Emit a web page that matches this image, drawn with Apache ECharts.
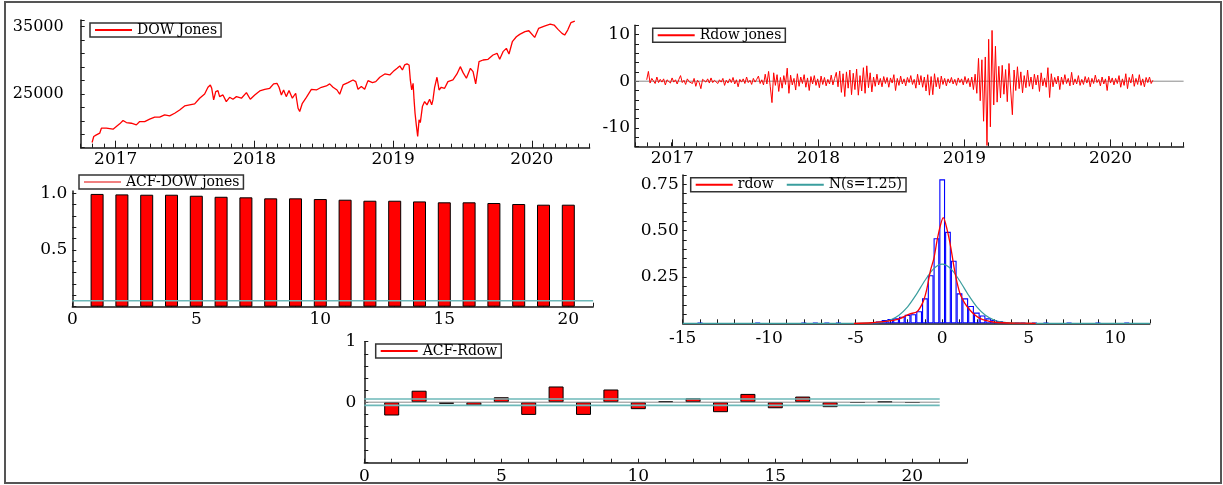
<!DOCTYPE html>
<html><head><meta charset="utf-8">
<script src="https://cdn.jsdelivr.net/npm/echarts@6/dist/echarts.min.js"></script>
<style>html,body{margin:0;padding:0;background:#fff}#c{width:1223px;height:485px}</style>
</head><body><div id="c"></div>
<script>
// ---------------- DATA ----------------
const dowYears = [2016.832,2016.844,2016.863,2016.887,2016.899,2016.935,2016.983,2017.007,2017.031,2017.055,
2017.079,2017.115,2017.151,2017.175,2017.211,2017.247,2017.283,2017.319,2017.355,2017.391,
2017.427,2017.463,2017.499,2017.535,2017.571,2017.607,2017.643,2017.667,2017.684,2017.694,
2017.708,2017.723,2017.739,2017.751,2017.775,2017.799,2017.823,2017.847,2017.872,2017.908,
2017.944,2017.972,2018.004,2018.040,2018.076,2018.112,2018.140,2018.164,2018.179,2018.196,
2018.212,2018.231,2018.251,2018.275,2018.299,2018.316,2018.328,2018.347,2018.376,2018.412,
2018.448,2018.484,2018.520,2018.544,2018.568,2018.597,2018.616,2018.640,2018.676,2018.712,
2018.732,2018.748,2018.772,2018.796,2018.820,2018.852,2018.876,2018.905,2018.941,2018.977,
2019.001,2019.030,2019.049,2019.068,2019.084,2019.101,2019.116,2019.125,2019.135,2019.145,
2019.152,2019.159,2019.168,2019.178,2019.188,2019.197,2019.212,2019.228,2019.245,2019.264,
2019.279,2019.288,2019.300,2019.317,2019.332,2019.348,2019.372,2019.396,2019.432,2019.461,
2019.485,2019.505,2019.529,2019.558,2019.577,2019.596,2019.620,2019.649,2019.685,2019.721,
2019.750,2019.769,2019.793,2019.817,2019.836,2019.860,2019.889,2019.913,2019.923,2019.951,
2019.979,2020.021,2020.049,2020.091,2020.133,2020.161,2020.189,2020.218,2020.237,2020.259,
2020.282,2020.310];
const dowValues = [17770,18660,18910,19160,19900,19900,19750,20150,20550,21040,
20740,20640,20400,20890,20890,21240,21540,21540,21880,21730,
22130,22620,23220,23370,23520,24360,25000,25990,26340,25840,
24110,25350,25500,24600,24850,23860,24500,24210,24600,24360,
25200,24210,24850,25450,25690,25840,26490,26580,25990,24850,
25590,24600,25500,24360,25100,22870,22380,23610,24500,25690,
25590,25990,26190,26490,25990,25590,24950,26340,26680,27080,
26830,25690,26090,25690,26980,26680,26830,27480,27970,27820,
28320,28810,29160,28560,29310,29460,29310,27080,25590,26580,
24110,22130,20400,18660,21140,20740,23120,23860,23370,24210,
23370,24110,25990,27480,25590,25990,25840,26830,27080,27970,
29060,28170,27330,28810,28320,26490,29800,30050,30150,30790,
31040,30150,31290,31780,30940,32770,33510,33860,34010,34260,
34400,33410,34750,35100,35400,35250,34600,34010,33760,34500,
35600,35840];

const rdowStart = 2016.83, rdowEnd = 2020.29;
const rdowValues = [
0.3,2.1,-0.4,0.6,0.2,-0.5,0.9,-0.3,0.4,-0.2,
0.5,-0.8,0.3,0.1,-0.4,0.7,-0.2,0.3,-0.6,0.4,
1.2,-0.3,0.2,-0.7,0.5,-0.1,0.3,-0.5,0.6,-1.1,
0.2,-0.3,-1.6,0.4,0.3,-0.2,0.5,-0.4,0.7,-0.3,
0.2,0.4,-0.5,0.3,-0.2,0.6,-0.9,0.2,-0.4,0.5,
-0.3,0.8,-0.6,0.3,-1.2,0.4,-0.2,0.5,-0.5,0.9,
-0.3,0.2,-0.7,0.6,-0.2,0.4,1.1,-0.5,0.3,-0.8,
1.5,-0.6,2.1,-1.2,-4.6,1.8,-0.9,1.4,-2.2,0.8,
-1.5,1.2,-0.7,2.8,-2.6,1.3,-0.8,0.6,-1.9,1.6,
-1.1,0.9,-0.5,1.4,-1.3,0.7,-2.0,1.0,-0.6,1.2,
-0.9,0.5,-1.4,1.1,-0.7,0.8,-1.0,0.4,-0.6,1.3,
-0.8,0.6,1.9,-1.2,2.2,-2.4,1.6,-3.3,2.0,-1.5,
2.4,-2.9,1.7,-1.8,2.6,-3.0,1.2,-2.1,2.9,-2.6,
3.3,-1.4,1.8,-2.3,0.9,-1.1,1.5,-0.8,0.6,-1.2,
1.0,-0.5,0.8,-1.3,0.7,-0.4,1.4,-2.0,0.6,-0.9,
1.1,-0.6,0.5,-1.0,0.8,-0.3,1.2,-0.7,0.4,-1.5,
1.5,-0.8,1.2,-1.3,0.9,-2.1,1.4,-3.0,1.0,-2.9,
1.6,-1.2,0.8,-1.6,1.1,-0.7,0.6,-1.0,0.5,-0.4,
0.8,-0.6,0.4,-0.9,0.7,-0.3,0.5,-0.8,1.0,-0.5,
0.6,-1.2,0.9,-1.8,1.5,-2.6,4.9,-4.2,4.6,-8.6,
5.2,-13.8,9.0,-9.8,10.9,-5.1,7.5,-4.5,3.2,-3.6,
3.4,-2.8,2.5,-4.4,3.8,-1.9,-7.2,2.4,-2.0,3.1,
-1.6,2.0,-2.5,1.2,-1.4,2.4,-1.1,0.9,-1.7,1.5,
-0.8,1.3,-2.2,1.8,-1.0,0.7,-1.3,2.9,-3.5,1.6,
-1.2,0.8,-0.6,1.1,-1.8,0.9,-0.7,1.4,-0.5,0.6,
-1.0,1.9,-0.8,0.5,-0.6,1.2,-0.9,0.4,-0.7,1.0,
-0.4,0.8,-1.2,0.6,-0.5,1.3,-0.3,0.4,-1.0,0.9,
-0.6,0.5,-2.0,1.1,-0.4,0.7,-0.8,0.6,-0.5,1.2,
-1.3,0.5,-0.9,1.6,-1.6,0.8,-0.4,1.5,-1.1,0.6,
-0.7,1.4,-0.9,0.5,-1.2,0.8,-0.3,0.9,-0.5,0.2];

const acfLags = [1,2,3,4,5,6,7,8,9,10,11,12,13,14,15,16,17,18,19,20];
const acfDow = [0.995,0.991,0.988,0.988,0.979,0.970,0.965,0.956,0.956,0.950,
0.944,0.935,0.935,0.929,0.921,0.921,0.915,0.906,0.900,0.900];
const acfRdow = [-0.22,0.19,-0.027,-0.055,0.082,-0.21,0.26,-0.21,0.21,-0.115,
0.016,0.066,-0.165,0.137,-0.10,0.093,-0.082,-0.01,0.01,-0.01];
const acfBandLevel = 0.053;
const acfLineEnd = 21;

const histCenters = [-14,-10.667,-8,-7.333,-6.667,-6,-4,-3.667,-3.333,-3,
-2.667,-2.333,-2,-1.667,-1.333,-1,-0.667,-0.333,0,0.333,
0.667,1,1.333,1.667,2,2.333,2.667,3,3.333,3.667,
4.333,4.667,5.333,6,7.333,9,10.667];
const histHeights = [0.004,0.004,0.004,0.004,0.004,0.004,0.004,0.01,0.018,0.023,
0.027,0.036,0.046,0.049,0.065,0.135,0.26,0.459,0.777,0.494,
0.338,0.162,0.135,0.094,0.058,0.042,0.027,0.018,0.012,0.006,
0.004,0.004,0.004,0.004,0.004,0.004,0.004];
const densX = [-5.1,-4.1,-3.4,-2.9,-2.4,-1.9,-1.45,-1.1,-0.9,-0.67,
-0.48,-0.29,-0.1,0.06,0.29,0.49,0.68,0.87,1.06,1.31,
1.6,1.89,2.18,2.56,2.95,3.5,4.2,5.4];
const densY = [0,0.003,0.009,0.014,0.027,0.05,0.063,0.117,0.18,0.288,
0.35,0.45,0.53,0.57,0.503,0.413,0.305,0.216,0.153,0.108,
0.072,0.045,0.027,0.014,0.007,0.003,0.001,0];
const normX = [-15,-5,-4,-3.5,-3,-2.5,-2,-1.5,-1,-0.5,0,0.5,1,1.5,2,2.5,3,3.5,4,5,12];
const normY = [0,0,0.002,0.006,0.018,0.044,0.089,0.155,0.231,0.294,0.319,0.294,0.231,0.155,0.089,0.044,0.018,0.006,0.002,0,0];

// ---------------- STYLE ----------------
const FONT = 'DejaVu Serif';
const INK = '#1a1a1a';
const RED = '#ff0000';
const BLUE = '#0000ff';
const TEAL = '#3a9e9e';
const BAND = '#6cb8b8';
const GRAY = '#8a8a8a';

function merge(a, b) {
  const out = Array.isArray(a) ? a.slice() : Object.assign({}, a);
  for (const k in b) {
    if (b[k] && typeof b[k] === 'object' && !Array.isArray(b[k]) && a[k] && typeof a[k] === 'object') out[k] = merge(a[k], b[k]);
    else out[k] = b[k];
  }
  return out;
}
function axis(kind, grid, min, max, interval, extra) {
  const base = {
    type: 'value', gridIndex: grid, min: min, max: max, interval: interval,
    position: kind === 'x' ? 'bottom' : 'left',
    axisLine: {show: true, onZero: false, lineStyle: {color: INK, width: 1.5}},
    axisTick: {show: true, inside: true, length: 4, lineStyle: {color: INK, width: 1}},
    axisLabel: {show: true, fontFamily: FONT, fontSize: 17, color: '#000', margin: 4},
    splitLine: {show: false}
  };
  return merge(base, extra || {});
}
const only = (list, fmt) => v => {
  for (const t of list) if (Math.abs(v - t) < 1e-6) return fmt ? fmt(t) : String(t);
  return '';
};
const yearFmt = v => Math.abs(v - Math.round(v)) < 1e-6 ? String(Math.round(v)) : '';
const mult5 = v => (Math.abs(v / 5 - Math.round(v / 5)) < 1e-6) ? String(Math.round(v)) : '';

function legend(left, top, items) {
  return {
    left: left, top: top, orient: 'horizontal', selectedMode: false,
    itemWidth: 37, itemHeight: 2, itemGap: 13,
    padding: [0, 4, 0, 5], borderColor: '#333', borderWidth: 1.5, borderRadius: 0,
    backgroundColor: '#fff',
    textStyle: {fontFamily: FONT, fontSize: 14, color: '#000', lineHeight: 13},
    data: items.map(it => ({name: it[0], icon: 'rect', itemStyle: {color: it[1], borderWidth: 0}}))
  };
}

const pxA = {xmin: 2016.75, xmax: 2020.4167};
const pxB = {xmin: 2016.75, xmax: 2020.5};

const grid = [
  {left: 80.7, top: 20, width: 508.9, height: 127.7},
  {left: 115.7, top: 20, width: 473.9, height: 127.7},
  {left: 635, top: 25.3, width: 548.6, height: 121.1},
  {left: 672.3, top: 25.3, width: 511.3, height: 121.1},
  {left: 72.3, top: 191.1, width: 520.8, height: 115.6},
  {left: 682.7, top: 175.1, width: 467.1, height: 148.2},
  {left: 364.3, top: 341.7, width: 602.8, height: 121}
];

const xAxis = [
  axis('x', 0, pxA.xmin, pxA.xmax, 1 / 12, {axisLabel: {show: false}}),
  axis('x', 1, 2017, pxA.xmax, 1, {axisLine: {show: false}, axisTick: {length: 7}, axisLabel: {formatter: yearFmt, showMaxLabel: false, margin: 3}}),
  axis('x', 2, pxB.xmin, pxB.xmax, 1 / 12, {axisLabel: {show: false}}),
  axis('x', 3, 2017, pxB.xmax, 1, {axisLine: {show: false}, axisTick: {length: 7}, axisLabel: {formatter: yearFmt, showMaxLabel: false, margin: 4}}),
  axis('x', 4, 0, 21, 1, {axisLabel: {formatter: mult5, margin: 4}}),
  axis('x', 5, -15, 12, 1, {axisLabel: {formatter: mult5, margin: 7}}),
  axis('x', 6, 0, 22, 1, {axisLabel: {formatter: mult5, margin: 5}})
];
const yAxis = [
  axis('y', 0, 17000, 36000, 2000, {axisLabel: {fontSize: 16, margin: 17, formatter: only([25000, 35000])}}),
  {type: 'value', gridIndex: 1, min: 0, max: 1, show: false},
  axis('y', 2, -14, 12, 2, {axisLabel: {margin: 5, formatter: only([-10, 0, 10])}}),
  {type: 'value', gridIndex: 3, min: 0, max: 1, show: false},
  axis('y', 4, 0, 1.02, 0.1, {axisLabel: {margin: 5, showMaxLabel: false, formatter: only([0.5, 1.0], t => t.toFixed(1))}}),
  axis('y', 5, 0, 0.8, 0.05, {axisLabel: {margin: 4, formatter: only([0.25, 0.5, 0.75], t => t.toFixed(2))}}),
  axis('y', 6, -1, 1, 0.2, {axisLabel: {margin: 8, formatter: only([0, 1])}})
];

const zip = (xs, ys) => xs.map((x, i) => [x, ys[i]]);
const rdowData = rdowValues.map((v, i) => [rdowStart + i * (rdowEnd - rdowStart) / (rdowValues.length - 1), v]);
const lineS = (name, xi, data, color, width, extra) => Object.assign({
  name: name, type: 'line', xAxisIndex: xi, yAxisIndex: xi, data: data,
  showSymbol: false, symbol: 'none', animation: false, clip: true,
  lineStyle: {color: color, width: width}, itemStyle: {color: color}
}, extra || {});

const series = [
  lineS('DOW Jones', 0, zip(dowYears, dowValues), RED, 1.3),
  lineS('zeroB', 2, [[pxB.xmin, 0], [pxB.xmax, 0]], GRAY, 1),
  lineS('Rdow jones', 2, rdowData, RED, 1),
  {name: 'ACF-DOW jones', type: 'bar', xAxisIndex: 4, yAxisIndex: 4, barWidth: 13, animation: false,
   data: zip(acfLags, acfDow), itemStyle: {color: RED, borderColor: '#000', borderWidth: 1}},
  lineS('bandC', 4, [[0, acfBandLevel], [acfLineEnd, acfBandLevel]], BAND, 1.6),
  {name: 'hist', type: 'bar', xAxisIndex: 5, yAxisIndex: 5, barWidth: 5.77, animation: false,
   data: zip(histCenters, histHeights), itemStyle: {color: 'rgba(255,255,255,0)', borderColor: BLUE, borderWidth: 1.1}},
  lineS('N(s=1.25)', 5, zip(normX, normY), TEAL, 1.2, {smooth: 0.3}),
  lineS('rdow', 5, zip(densX, densY), RED, 1.3, {smooth: 0.3}),
  lineS('zeroE', 6, [[0, 0], [acfLineEnd, 0]], GRAY, 1),
  lineS('bandEu', 6, [[0, acfBandLevel], [acfLineEnd, acfBandLevel]], BAND, 1.6),
  lineS('bandEl', 6, [[0, -acfBandLevel], [acfLineEnd, -acfBandLevel]], BAND, 1.6),
  {name: 'ACF-Rdow', type: 'bar', xAxisIndex: 6, yAxisIndex: 6, barWidth: 15, animation: false,
   data: zip(acfLags, acfRdow), itemStyle: {color: RED, borderColor: '#000', borderWidth: 1}}
];

const option = {
  backgroundColor: '#fff',
  animation: false,
  grid: grid,
  xAxis: xAxis,
  yAxis: yAxis,
  legend: [
    legend(90, 23, [['DOW Jones', RED]]),
    legend(652.7, 28.3, [['Rdow jones', RED]]),
    legend(79, 175, [['ACF-DOW jones', '#f08080']]),
    legend(690.7, 177.7, [['rdow', RED], ['N(s=1.25)', TEAL]]),
    legend(375.7, 344, [['ACF-Rdow', RED]])
  ],
  series: series,
  graphic: [{type: 'rect', shape: {x: 5, y: 2, width: 1216, height: 481}, style: {fill: 'none', stroke: '#555', lineWidth: 2}, silent: true, z: 100}]
};
const chart = echarts.init(document.getElementById('c'));
chart.setOption(option);
</script></body></html>
